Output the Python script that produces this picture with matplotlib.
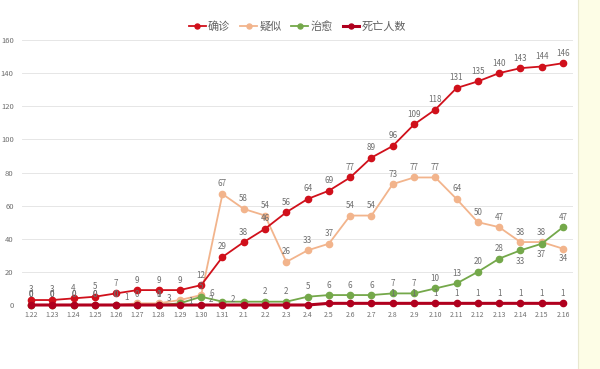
import matplotlib
matplotlib.use("Agg")
import matplotlib.pyplot as plt
import matplotlib.patches as patches

plt.rcParams['font.family'] = ['Noto Sans CJK SC', 'DejaVu Sans']

dates = ["1.22", "1.23", "1.24", "1.25", "1.26", "1.27", "1.28", "1.29", "1.30", "1.31",
         "2.1", "2.2", "2.3", "2.4", "2.5", "2.6", "2.7", "2.8", "2.9", "2.10",
         "2.11", "2.12", "2.13", "2.14", "2.15", "2.16"]
confirmed = [3, 3, 4, 5, 7, 9, 9, 9, 12, 29, 38, 46, 56, 64, 69, 77, 89, 96, 109, 118,
             131, 135, 140, 143, 144, 146]
suspected = [0, 0, 0, 0, 0, 1, 1, 3, 6, 67, 58, 54, 26, 33, 37, 54, 54, 73, 77, 77,
             64, 50, 47, 38, 38, 34]
cured = [0, 0, 0, 0, 0, 0, 0, 1, 5, 2, 2, 2, 2, 5, 6, 6, 6, 7, 7, 10,
         13, 20, 28, 33, 37, 47]
deaths = [0] * 14 + [1] * 12
yticks = [0, 20, 40, 60, 80, 100, 120, 140, 160]

# label placement tweaks (index -> offset in points), default is above the point
sus_offsets = {5: (-8, 1), 6: (0, 3), 7: (-8, -2), 8: (8, -2), 25: (0, -10)}
cur_offsets = {7: (8, -2), 9: (-8, -2), 10: (-8, -2), 23: (0, -11), 24: (0, -11)}

fig = plt.figure(figsize=(6, 3.69), dpi=100)
fig.patch.set_facecolor("white")
# pale yellow strip on the right edge of the screenshot
fig.patches.append(patches.Rectangle((578 / 600, 0), 22 / 600, 1, transform=fig.transFigure,
                                     facecolor="#fdfde6", edgecolor="none", zorder=0))
fig.lines.append(plt.Line2D([578 / 600, 578 / 600], [0, 1], transform=fig.transFigure,
                            color="#e8e8d0", linewidth=0.8))

ax = fig.add_axes([22 / 600, 1 - 305 / 369, 551 / 600, 265 / 369])
x = list(range(len(dates)))

series = [
    ("确诊", confirmed, "#d0101b", 1.3, 3),
    ("疑似", suspected, "#f2b48c", 1.3, 2),
    ("治愈", cured, "#74a84a", 1.3, 2),
    ("死亡人数", deaths, "#b0001e", 2.2, 4),
]
for name, vals, col, lw, z in series:
    ax.plot(x, vals, color=col, linewidth=lw, marker="o", markersize=4.5,
            label=name, zorder=z, clip_on=False)

label_col = "#6e6e6e"


def put_labels(vals, offsets=None, keep=None):
    offsets = offsets or {}
    for i, v in enumerate(vals):
        if keep is not None and not keep(i, v):
            continue
        dx, dy = offsets.get(i, (0, 4))
        ax.annotate(str(v), (i, v), xytext=(dx, dy), textcoords="offset points",
                    ha="center", va="bottom", fontsize=5.8, color=label_col, zorder=6)


put_labels(confirmed)
put_labels(suspected, sus_offsets)
put_labels(cured, cur_offsets)
put_labels(deaths, keep=lambda i, v: abs(cured[i] - v) > 5)

ax.set_xlim(-0.42, 25.47)
ax.set_ylim(0, 160)
ax.set_yticks(yticks)
ax.set_xticks(x)
ax.set_xticklabels(dates)
ax.tick_params(axis="y", labelsize=5.5, colors=label_col, length=0, pad=6)
ax.tick_params(axis="x", labelsize=5, colors=label_col, length=0, pad=4)
ax.grid(axis="y", color="#e6e6e6", linewidth=0.7)
ax.set_axisbelow(True)
for s in ax.spines.values():
    s.set_visible(False)

ax.legend(loc="lower center", bbox_to_anchor=(0.5, 1.0), ncol=4, frameon=False,
          fontsize=8, labelcolor="#606060", handlelength=1.5, handletextpad=0.2,
          columnspacing=0.9, borderaxespad=0.3, markerscale=0.8)

fig.savefig("out.png", dpi=100)
